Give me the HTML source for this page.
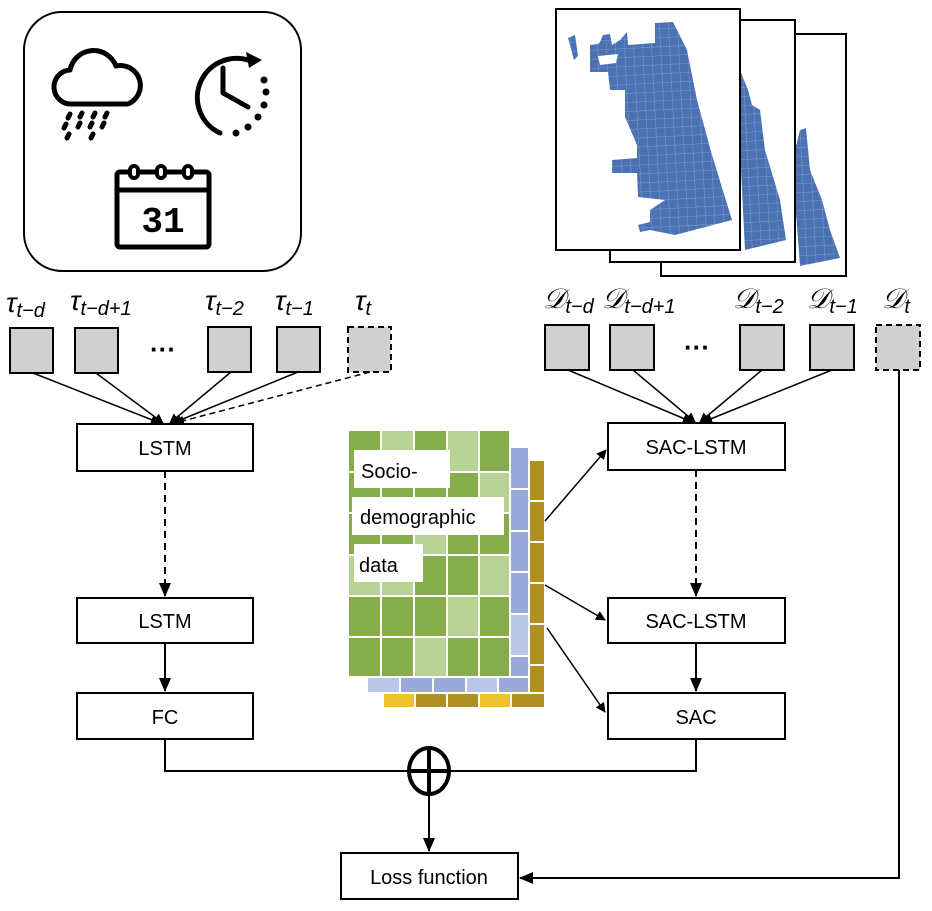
<!DOCTYPE html>
<html><head><meta charset="utf-8"><style>
html,body{margin:0;padding:0;background:#fff;}
svg{display:block;}
text{font-family:"Liberation Sans",sans-serif;}
.m{font-family:"Liberation Serif",serif;font-style:italic;}
</style></head><body>
<svg width="932" height="911" viewBox="0 0 932 911" xmlns="http://www.w3.org/2000/svg">
<defs>
<marker id="ah" markerWidth="10" markerHeight="10" refX="9" refY="5" orient="auto" markerUnits="userSpaceOnUse"><path d="M0,0 L10,5 L0,10 z" fill="#000"/></marker>
<marker id="ah2" markerWidth="14" markerHeight="12" refX="13" refY="6" orient="auto" markerUnits="userSpaceOnUse"><path d="M0,0 L14,6 L0,12 z" fill="#000"/></marker>
<pattern id="grid" width="9" height="9" patternUnits="userSpaceOnUse" patternTransform="rotate(-3)"><rect width="9" height="9" fill="#4a72b2"/><path d="M0,0 H9 M0,0 V9" stroke="#8fa8d4" stroke-width="0.7"/></pattern>
</defs>

<!-- icon box -->
<rect x="24" y="12" width="277" height="259" rx="38" fill="#fff" stroke="#000" stroke-width="2"/>
<g fill="none" stroke="#000" stroke-width="5" stroke-linecap="round" stroke-linejoin="round">
<path d="M72,104 A17,17 0 0 1 70,70 A24,24 0 0 1 116,66 A20,20 0 0 1 128,104 Z"/>
<path d="M70,114 l-2,4 M82,113 l-2,4 M95,113 l-2,4 M107,113 l-2,4 M66,124 l-2,4 M80,123 l-2,4 M92,123 l-2,4 M104,123 l-2,4 M69,134 l-2,4 M93,134 l-2,4"/>
<path d="M220,133 A37,37 0 1 1 253,62"/>
<path d="M223,68 V93 L248,107"/>
<path d="M120,172 h86 a3,3 0 0 1 3,3 v69 a3,3 0 0 1 -3,3 h-86 a3,3 0 0 1 -3,-3 v-69 a3,3 0 0 1 3,-3 z M117,190 H209"/>
</g>
<path d="M246,52 L262,60 L249,68 z" fill="#000"/>
<g fill="#000"><circle cx="264" cy="80" r="3.5"/><circle cx="266" cy="92" r="3.5"/><circle cx="264" cy="105" r="3.5"/><circle cx="258" cy="117" r="3.5"/><circle cx="248" cy="127" r="3.5"/><circle cx="236" cy="133" r="3.5"/></g>
<g fill="#fff" stroke="#000" stroke-width="4"><rect x="130" y="166" width="8" height="12" rx="4"/><rect x="157" y="166" width="8" height="12" rx="4"/><rect x="184" y="166" width="8" height="12" rx="4"/></g>
<text x="163" y="232" text-anchor="middle" font-size="36" font-weight="bold" style="font-family:'Liberation Mono',monospace">31</text>

<!-- maps -->
<rect x="661" y="34" width="185" height="242" fill="#fff" stroke="#000" stroke-width="2"/>
<path d="M795,150 L800,130 L806,128 L810,170 L822,200 L830,230 L840,258 L800,266 L795,200 z" fill="url(#grid)"/>
<rect x="610" y="20" width="185" height="242" fill="#fff" stroke="#000" stroke-width="2"/>
<path d="M740,70 L748,90 L752,105 L760,110 L765,150 L780,200 L786,240 L745,250 L740,150 z" fill="url(#grid)"/>
<rect x="556" y="9" width="184" height="241" fill="#fff" stroke="#000" stroke-width="2"/>
<path d="M590,45 L598,44 L600,42 L603,35 L610,34 L612,45 L620,40 L627,32 L628,45 L655,43 L655,23 L673,22 L687,50 L693,80 L697,100 L712,155 L732,220 L675,235 L650,230 L640,232 L638,225 L650,222 L650,210 L665,200 L638,197 L637,173 L612,173 L612,160 L637,158 L637,145 L625,117 L625,90 L610,90 L608,72 L590,72 z" fill="url(#grid)"/>
<path d="M598,56 L618,54 L616,63 L600,65 z" fill="#fff"/>
<path d="M568,38 L575,35 L578,56 L574,60 z" fill="url(#grid)"/>

<!-- input squares -->
<g fill="#d0d0d0" stroke="#000" stroke-width="2">
<rect x="10" y="328" width="43" height="45"/><rect x="75" y="328" width="43" height="45"/><rect x="208" y="327" width="43" height="45"/><rect x="277" y="327" width="43" height="45"/>
<rect x="348" y="327" width="43" height="45" stroke-dasharray="6,4"/>
<rect x="545" y="325" width="44" height="45"/><rect x="610" y="325" width="44" height="45"/><rect x="740" y="325" width="44" height="45"/><rect x="810" y="325" width="44" height="45"/>
<rect x="876" y="325" width="44" height="45" stroke-dasharray="6,4"/>
</g>
<text x="163" y="358" font-size="26" font-weight="bold" text-anchor="middle">···</text>
<text x="697" y="356" font-size="26" font-weight="bold" text-anchor="middle">···</text>
<g class="m" font-size="28">
<text x="6" y="312">τ<tspan font-size="20" dy="5">t−d</tspan></text>
<text x="70" y="310">τ<tspan font-size="20" dy="5">t−d+1</tspan></text>
<text x="205" y="310">τ<tspan font-size="20" dy="5">t−2</tspan></text>
<text x="275" y="310">τ<tspan font-size="20" dy="5">t−1</tspan></text>
<text x="355" y="310">τ<tspan font-size="20" dy="5">t</tspan></text>
<text x="543" y="308">𝒟<tspan font-size="20" dy="5">t−d</tspan></text>
<text x="602" y="308">𝒟<tspan font-size="20" dy="5">t−d+1</tspan></text>
<text x="733" y="308">𝒟<tspan font-size="20" dy="5">t−2</tspan></text>
<text x="807" y="308">𝒟<tspan font-size="20" dy="5">t−1</tspan></text>
<text x="882" y="308">𝒟<tspan font-size="20" dy="5">t</tspan></text>
</g>

<g stroke="#000" stroke-width="1.5" fill="none" marker-end="url(#ah)">
<path d="M33,373 L160,423"/><path d="M96,373 L163,423"/><path d="M231,372 L170,423"/><path d="M298,372 L173,423"/>
<path d="M370,372 L175,423" stroke-dasharray="6,4"/>
<path d="M568,370 L692,422"/><path d="M633,370 L695,422"/><path d="M762,370 L700,422"/><path d="M832,370 L703,422"/>
</g>

<g fill="#fff" stroke="#000" stroke-width="2">
<rect x="77" y="424" width="176" height="47"/><rect x="77" y="598" width="176" height="45"/><rect x="77" y="693" width="176" height="46"/>
<rect x="608" y="423" width="177" height="47"/><rect x="608" y="598" width="177" height="45"/><rect x="608" y="693" width="177" height="46"/>
<rect x="341" y="853" width="177" height="46"/>
</g>
<g font-size="20" text-anchor="middle">
<text x="165" y="455">LSTM</text><text x="165" y="628">LSTM</text><text x="165" y="724">FC</text>
<text x="696" y="454">SAC-LSTM</text><text x="696" y="628">SAC-LSTM</text><text x="696" y="724">SAC</text>
<text x="429" y="884">Loss function</text>
</g>

<g stroke="#000" stroke-width="2" fill="none">
<path d="M165,471 V596" stroke-dasharray="7,5" marker-end="url(#ah2)"/>
<path d="M165,643 V691" marker-end="url(#ah2)"/>
<path d="M696,470 V596" stroke-dasharray="7,5" marker-end="url(#ah2)"/>
<path d="M696,643 V691" marker-end="url(#ah2)"/>
<path d="M165,739 V771 H696 V739"/>
<path d="M429,793 V851" marker-end="url(#ah2)"/>
<path d="M899,370 V878 H520" marker-end="url(#ah2)"/>
</g>
<ellipse cx="429" cy="771" rx="20" ry="23" fill="#fff" stroke="#000" stroke-width="4"/>
<path d="M429,748 V794 M409,771 H449" stroke="#000" stroke-width="4"/>

<g stroke="#fff" stroke-width="2">
<rect x="383" y="693" width="32" height="15" fill="#eec22e"/><rect x="415" y="693" width="32" height="15" fill="#b18f22"/><rect x="447" y="693" width="32" height="15" fill="#b18f22"/><rect x="479" y="693" width="32" height="15" fill="#eec22e"/><rect x="511" y="693" width="34" height="15" fill="#b18f22"/>
<rect x="529" y="460" width="16" height="41" fill="#b18f22"/><rect x="529" y="501" width="16" height="41" fill="#b18f22"/><rect x="529" y="542" width="16" height="41" fill="#b18f22"/><rect x="529" y="583" width="16" height="41" fill="#b18f22"/><rect x="529" y="624" width="16" height="41" fill="#b18f22"/><rect x="529" y="665" width="16" height="28" fill="#b18f22"/>
<rect x="367" y="677" width="33" height="16" fill="#b9c6e5"/><rect x="400" y="677" width="33" height="16" fill="#98a9da"/><rect x="433" y="677" width="33" height="16" fill="#98a9da"/><rect x="466" y="677" width="32" height="16" fill="#b9c6e5"/><rect x="498" y="677" width="31" height="16" fill="#98a9da"/>
<rect x="510" y="447" width="19" height="42" fill="#98a9da"/><rect x="510" y="489" width="19" height="42" fill="#98a9da"/><rect x="510" y="531" width="19" height="41" fill="#98a9da"/><rect x="510" y="572" width="19" height="42" fill="#98a9da"/><rect x="510" y="614" width="19" height="42" fill="#b9c6e5"/><rect x="510" y="656" width="19" height="21" fill="#98a9da"/>
</g>
<g stroke="#fff" stroke-width="2">
<rect x="348" y="430" width="33" height="42" fill="#86ac4c"/><rect x="381" y="430" width="33" height="42" fill="#b8d194"/><rect x="414" y="430" width="33" height="42" fill="#86ac4c"/><rect x="447" y="430" width="32" height="42" fill="#b8d194"/><rect x="479" y="430" width="31" height="42" fill="#86ac4c"/>
<rect x="348" y="472" width="33" height="41" fill="#86ac4c"/><rect x="381" y="472" width="33" height="41" fill="#86ac4c"/><rect x="414" y="472" width="33" height="41" fill="#86ac4c"/><rect x="447" y="472" width="32" height="41" fill="#86ac4c"/><rect x="479" y="472" width="31" height="41" fill="#b8d194"/>
<rect x="348" y="513" width="33" height="42" fill="#86ac4c"/><rect x="381" y="513" width="33" height="42" fill="#86ac4c"/><rect x="414" y="513" width="33" height="42" fill="#b8d194"/><rect x="447" y="513" width="32" height="42" fill="#86ac4c"/><rect x="479" y="513" width="31" height="42" fill="#86ac4c"/>
<rect x="348" y="555" width="33" height="41" fill="#b8d194"/><rect x="381" y="555" width="33" height="41" fill="#b8d194"/><rect x="414" y="555" width="33" height="41" fill="#86ac4c"/><rect x="447" y="555" width="32" height="41" fill="#86ac4c"/><rect x="479" y="555" width="31" height="41" fill="#b8d194"/>
<rect x="348" y="596" width="33" height="41" fill="#86ac4c"/><rect x="381" y="596" width="33" height="41" fill="#86ac4c"/><rect x="414" y="596" width="33" height="41" fill="#86ac4c"/><rect x="447" y="596" width="32" height="41" fill="#b8d194"/><rect x="479" y="596" width="31" height="41" fill="#86ac4c"/>
<rect x="348" y="637" width="33" height="40" fill="#86ac4c"/><rect x="381" y="637" width="33" height="40" fill="#86ac4c"/><rect x="414" y="637" width="33" height="40" fill="#b8d194"/><rect x="447" y="637" width="32" height="40" fill="#86ac4c"/><rect x="479" y="637" width="31" height="40" fill="#86ac4c"/>
</g>
<rect x="354" y="450" width="96" height="38" fill="#fff"/>
<rect x="352" y="497" width="152" height="38" fill="#fff"/>
<rect x="354" y="544" width="69" height="38" fill="#fff"/>
<g font-size="20"><text x="361" y="478">Socio-</text><text x="360" y="524">demographic</text><text x="359" y="572">data</text></g>

<g stroke="#000" stroke-width="1.5" fill="none" marker-end="url(#ah)">
<path d="M545,521 L606,450"/><path d="M545,585 L605,620"/><path d="M547,628 L605,712"/>
</g>
</svg>
</body></html>
